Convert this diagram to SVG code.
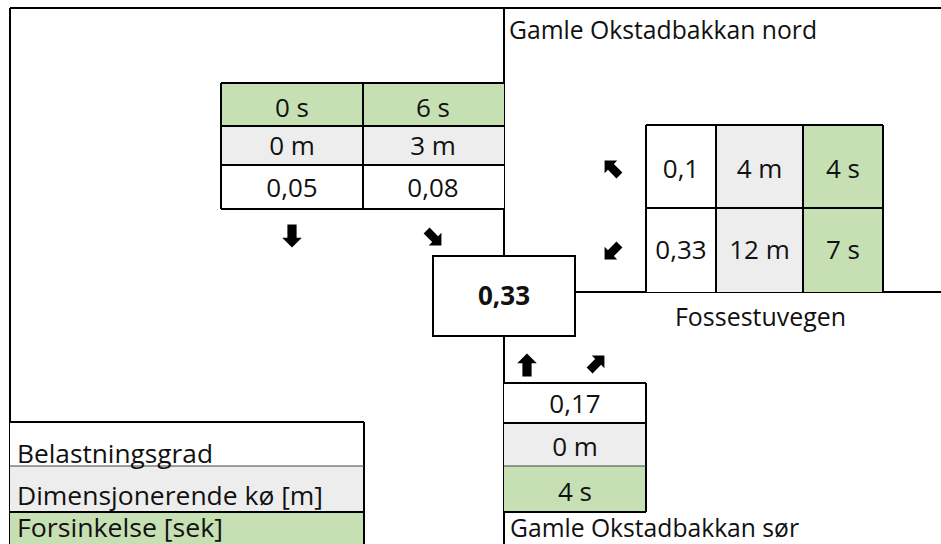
<svg xmlns="http://www.w3.org/2000/svg" xmlns:xlink="http://www.w3.org/1999/xlink" width="941" height="544" viewBox="0 0 941 544">
<style>
text{font-family:"Open Sans","Liberation Sans",sans-serif;font-size:25px;fill:#111;}
.c{text-anchor:middle;font-size:26px;}
.b{font-weight:bold;}
.ln{stroke:#000;stroke-width:2;fill:none;}
.thin{stroke:#444;stroke-width:1;fill:none;}
.g{fill:#C6E0B4;}
.y{fill:#EDEDED;}
.w{fill:#FFFFFF;}
.arr{fill:#000;}
</style>
<defs>
<path id="up" d="M0,-10 L8.5,-1.5 L4,-1.5 L4,10 L-4,10 L-4,-1.5 L-8.5,-1.5 Z"/>
</defs>
<rect x="0" y="0" width="941" height="544" fill="#fff"/>

<g id="connectors">
<line class="ln" x1="10" y1="8" x2="941" y2="8"/>
<line class="ln" x1="10" y1="8" x2="10" y2="544"/>
<line class="ln" x1="504" y1="8" x2="504" y2="256"/>
<line class="ln" x1="504" y1="336" x2="504" y2="544"/>
<line class="ln" x1="575" y1="292" x2="941" y2="292"/>
</g>

<g id="label-nord"><text x="509" y="39" textLength="308" lengthAdjust="spacingAndGlyphs">Gamle Okstadbakkan nord</text></g>
<g id="label-sor"><text x="510" y="537" textLength="289" lengthAdjust="spacingAndGlyphs">Gamle Okstadbakkan sør</text></g>
<g id="label-fosse"><text x="675" y="326" textLength="171" lengthAdjust="spacingAndGlyphs">Fossestuvegen</text></g>

<g id="north-table">
<rect class="g" x="221" y="83" width="283" height="43"/>
<rect class="y" x="221" y="126" width="283" height="39"/>
<rect class="w" x="221" y="165" width="283" height="44"/>
<path class="ln" d="M221,83 H504 M221,126 H504 M221,165 H504 M221,209 H504 M221,83 V209 M363,83 V209"/>
<text class="c" x="292" y="117">0 s</text>
<text class="c" x="433" y="117">6 s</text>
<text class="c" x="292" y="155">0 m</text>
<text class="c" x="433" y="155">3 m</text>
<text class="c" x="292" y="197">0,05</text>
<text class="c" x="433" y="197">0,08</text>
<use href="#up" class="arr" transform="translate(292,236) rotate(180) scale(1.15)"/>
<use href="#up" class="arr" transform="translate(434,238) rotate(135) scale(1.05)"/>
</g>

<g id="east-table">
<rect class="w" x="646" y="125" width="70" height="167"/>
<rect class="y" x="716" y="125" width="87" height="167"/>
<rect class="g" x="803" y="125" width="80" height="167"/>
<path class="ln" d="M646,125 H883 M646,208 H883 M646,125 V292 M716,125 V292 M803,125 V292 M883,125 V292"/>
<text class="c" x="681" y="178">0,1</text>
<text class="c" x="759.5" y="178">4 m</text>
<text class="c" x="843" y="178">4 s</text>
<text class="c" x="681" y="259">0,33</text>
<text class="c" x="759.5" y="259">12 m</text>
<text class="c" x="843" y="259">7 s</text>
<use href="#up" class="arr" transform="translate(612,168) rotate(-45) scale(1.05)"/>
<use href="#up" class="arr" transform="translate(612,252) rotate(-135) scale(1.05)"/>
</g>

<g id="center">
<rect x="433" y="256" width="142" height="80" fill="#fff" stroke="#000" stroke-width="2"/>
<text class="c b" x="504" y="305">0,33</text>
</g>

<g id="south-table">
<rect class="w" x="504" y="383" width="142" height="40"/>
<rect class="y" x="504" y="423" width="142" height="43"/>
<rect class="g" x="504" y="466" width="142" height="46"/>
<path class="ln" d="M504,383 H646 M504,423 H646 M504,512 H646 M646,383 V512"/>
<path class="thin" d="M504,466 H646"/>
<text class="c" x="575" y="413">0,17</text>
<text class="c" x="575" y="456">0 m</text>
<text class="c" x="575" y="501">4 s</text>
<use href="#up" class="arr" transform="translate(527,365) scale(1.15)"/>
<use href="#up" class="arr" transform="translate(597,363) rotate(45) scale(1.05)"/>
</g>

<g id="legend">
<rect class="w" x="10" y="422" width="354" height="44"/>
<rect class="y" x="10" y="466" width="354" height="46"/>
<rect class="g" x="10" y="512" width="354" height="32"/>
<path class="ln" d="M10,422 H364 M10,512 H364 M364,422 V544"/>
<path class="thin" d="M10,466 H364"/>
<text x="17" y="463" textLength="196" lengthAdjust="spacingAndGlyphs">Belastningsgrad</text>
<text x="17" y="505" textLength="306" lengthAdjust="spacingAndGlyphs">Dimensjonerende kø [m]</text>
<text x="17" y="537" textLength="206" lengthAdjust="spacingAndGlyphs">Forsinkelse [sek]</text>
</g>
</svg>
